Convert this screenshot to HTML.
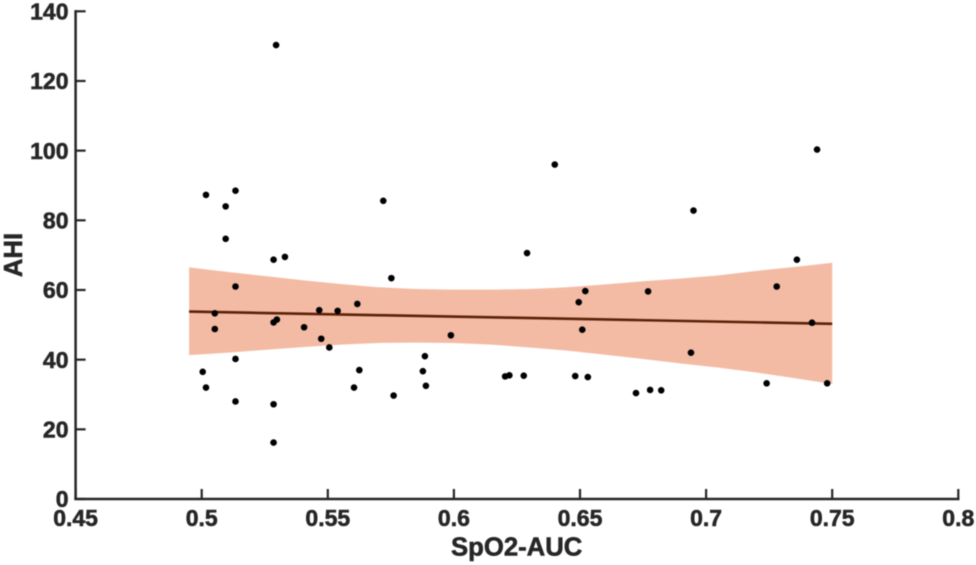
<!DOCTYPE html>
<html lang="en">
<head>
<meta charset="utf-8">
<title>AHI vs SpO2-AUC</title>
<style>
html,body{margin:0;padding:0;background:#fff;}
#chart{display:block;width:976px;height:565px;font-family:"Liberation Sans",Arial,sans-serif;font-weight:bold;filter:blur(0.4px);}
#chart text{fill:#262626;stroke:#262626;stroke-width:0.55px;}
</style>
</head>
<body>
<svg id="chart" xmlns="http://www.w3.org/2000/svg" width="976" height="565" viewBox="0 0 976 565"></svg>
<script>
const xTicks = [0.45, 0.5, 0.55, 0.6, 0.65, 0.7, 0.75, 0.8];
const xTickLabels = ['0.45', '0.5', '0.55', '0.6', '0.65', '0.7', '0.75', '0.8'];
const yTicks = [0, 20, 40, 60, 80, 100, 120, 140];
const yTickLabels = ['0', '20', '40', '60', '80', '100', '120', '140'];
const spo2Auc = [0.5295, 0.5004, 0.5017, 0.5017, 0.5052, 0.5052, 0.5095, 0.5095, 0.5134, 0.5134, 0.5134, 0.5134, 0.5285, 0.5285, 0.5298, 0.5285, 0.5285, 0.533, 0.5406, 0.5466, 0.5474, 0.5506, 0.5539, 0.5604, 0.5617, 0.5625, 0.572, 0.5752, 0.5761, 0.5877, 0.5885, 0.5889, 0.5988, 0.6203, 0.622, 0.6277, 0.629, 0.64, 0.6481, 0.6495, 0.6509, 0.6521, 0.6531, 0.6722, 0.677, 0.6778, 0.6822, 0.694, 0.695, 0.724, 0.728, 0.736, 0.742, 0.744, 0.748];
const ahi = [130.3, 36.5, 32, 87.3, 53.3, 48.8, 84, 74.7, 88.5, 61, 40.2, 28, 68.7, 50.7, 51.5, 27.2, 16.2, 69.5, 49.3, 54.2, 46, 43.5, 54, 32, 56, 37, 85.6, 63.4, 29.7, 36.7, 41, 32.5, 47, 35.2, 35.5, 35.4, 70.6, 96, 35.3, 56.5, 48.6, 59.7, 35, 30.4, 59.6, 31.3, 31.2, 42, 82.8, 33.2, 61, 68.7, 50.6, 100.3, 33.2];
const bandX = [0.495, 0.51, 0.525, 0.54, 0.555, 0.57, 0.585, 0.6, 0.615, 0.63, 0.645, 0.66, 0.675, 0.69, 0.705, 0.72, 0.735, 0.75];
const bandUpper = [66.5, 65.2, 64, 62.8, 61.7, 60.8, 60.3, 60.1, 60.1, 60.3, 60.8, 61.6, 62.5, 63.3, 64.2, 65.5, 66.6, 67.8];
const bandLower = [41.3, 42, 42.8, 43.6, 44.3, 44.8, 44.9, 44.8, 44.3, 43.5, 42.6, 41.4, 40.2, 38.9, 37.7, 36.3, 34.7, 33];
const fitX = [0.495, 0.75];
const fitY = [53.8, 50.3];

const svg = document.getElementById('chart');
const NS = 'http://www.w3.org/2000/svg';
const xScale = function (v) { return 75.6 + (v - 0.45) * (958.3 - 75.6) / 0.35; };
const yScale = function (v) { return 499 - v * (499 - 11.3) / 140; };

function make(tag, attrs, text) {
  const el = document.createElementNS(NS, tag);
  for (const k in attrs) el.setAttribute(k, attrs[k]);
  if (text !== undefined) el.textContent = text;
  svg.appendChild(el);
  return el;
}

// Confidence band
let bandPath = '';
bandX.forEach(function (x, i) {
  bandPath += (i ? 'L' : 'M') + xScale(x).toFixed(2) + ' ' + yScale(bandUpper[i]).toFixed(2);
});
for (let i = bandX.length - 1; i >= 0; i--) {
  bandPath += 'L' + xScale(bandX[i]).toFixed(2) + ' ' + yScale(bandLower[i]).toFixed(2);
}
const band = make('path', { d: bandPath + 'Z', fill: '#f3bba4' });



// Fit line
const fit = make('line', { x1: xScale(fitX[0]), y1: yScale(fitY[0]), x2: xScale(fitX[1]), y2: yScale(fitY[1]), stroke: '#5c2207', 'stroke-width': 2.6 });



// Points
spo2Auc.forEach(function (x, i) {
  const dot = make('circle', { cx: xScale(x).toFixed(2), cy: yScale(ahi[i]).toFixed(2), r: 3.3, fill: '#000' });
  
  
});

// Axes
const xAxis = make('line', { x1: xScale(0.45) - 1.3, y1: yScale(0), x2: xScale(0.8) + 1.2, y2: yScale(0), stroke: '#262626', 'stroke-width': 2.5 });


const yAxis = make('line', { x1: xScale(0.45), y1: yScale(140) - 1.2, x2: xScale(0.45), y2: yScale(0), stroke: '#262626', 'stroke-width': 2.5 });



xTicks.forEach(function (t, i) {
  const tick = make('line', { x1: xScale(t), y1: yScale(0), x2: xScale(t), y2: yScale(0) - 10, stroke: '#262626', 'stroke-width': 2.2 });
  
  
  const label = make('text', { x: xScale(t), y: 526, 'text-anchor': 'middle', 'font-size': 23 }, xTickLabels[i]);
  
  
});

yTicks.forEach(function (t, i) {
  const tick = make('line', { x1: xScale(0.45), y1: yScale(t), x2: xScale(0.45) + 10, y2: yScale(t), stroke: '#262626', 'stroke-width': 2.2 });
  
  
  const label = make('text', { x: 68.5, y: yScale(t) + 8.2, 'text-anchor': 'end', 'font-size': 23 }, yTickLabels[i]);
  
  
});

const xTitle = make('text', { x: 516.7, y: 555.7, 'text-anchor': 'middle', 'font-size': 25.7 }, 'SpO2-AUC');


const yTitle = make('text', { x: 0, y: 0, transform: 'translate(22 255) rotate(-90)', 'text-anchor': 'middle', 'font-size': 25.7 }, 'AHI');


</script>
</body>
</html>
